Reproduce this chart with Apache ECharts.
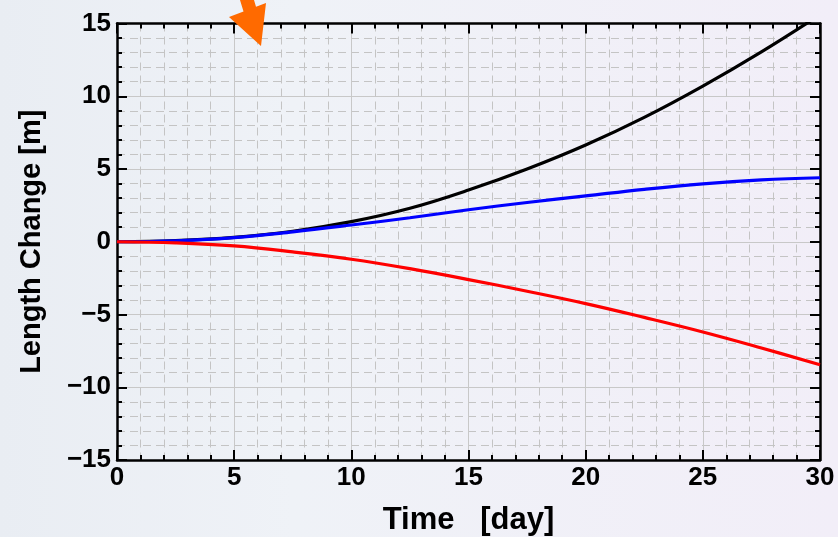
<!DOCTYPE html>
<html>
<head>
<meta charset="utf-8">
<script src="https://cdn.jsdelivr.net/npm/echarts@6/dist/echarts.min.js"></script>
<style>
  html, body { margin: 0; padding: 0; }
  #chart { width: 838px; height: 537px; }
</style>
</head>
<body>
<div id="chart"></div>
<script>
// data (day, metres)
const days = [0, 2.5, 5, 7.5, 10, 12.5, 15, 17.5, 20, 22.5, 25, 27.5, 30];
const blackVals = [0, 0.08, 0.3, 0.72, 1.38, 2.3, 3.55, 5.0, 6.65, 8.55, 10.7, 13.05, 15.6];
const blueVals = [0, 0.07, 0.28, 0.68, 1.15, 1.65, 2.2, 2.7, 3.15, 3.6, 3.98, 4.25, 4.4];
const redVals = [0, -0.08, -0.29, -0.7, -1.2, -1.85, -2.6, -3.4, -4.25, -5.2, -6.2, -7.3, -8.45];
const xTicks = [0, 5, 10, 15, 20, 25, 30];
const yTicks = [-15, -10, -5, 0, 5, 10, 15];

const pairs = vals => days.map((d, i) => [d, vals[i]]);
const font = 'Liberation Sans, Arial, sans-serif';

window.onload = () => {
    let chart = echarts.init(document.getElementById('chart'));

    const tickStyle = { show: true, inside: true, length: 10, lineStyle: { color: '#000', width: 2 } };
    const minorTick = { show: true, splitNumber: 5, length: 5, lineStyle: { color: '#000', width: 2 } };
    const lineStyle = { show: true, onZero: false, lineStyle: { color: '#000', width: 2.5 } };
    const majorGrid = { show: true, lineStyle: { color: '#c8c8c8', width: 1 } };
    const minorGrid = { show: true, lineStyle: { color: '#c4c4c4', width: 1, type: [8, 5] } };

    let option = {
        backgroundColor: {
            type: 'linear', x: 0, y: 0, x2: 1, y2: 0,
            colorStops: [
                { offset: 0, color: '#e9edf3' },
                { offset: 0.35, color: '#eff2f7' },
                { offset: 1, color: '#f2eef8' }
            ]
        },
        animation: false,
        grid: { left: 117, right: 18, top: 23.5, bottom: 77, outerBoundsMode: 'none', containLabel: false },
        xAxis: [{
            type: 'value', min: xTicks[0], max: xTicks[xTicks.length - 1], interval: 5,
            name: 'Time   [day]', nameLocation: 'middle', nameGap: 45,
            nameTextStyle: { fontFamily: font, fontWeight: 'bold', fontSize: 31, color: '#000' },
            axisLine: lineStyle, axisTick: tickStyle, minorTick: minorTick,
            axisLabel: { fontFamily: font, fontWeight: 'bold', fontSize: 26, color: '#000', margin: 5 },
            splitLine: majorGrid, minorSplitLine: minorGrid
        }, {
            type: 'value', position: 'top', min: 0, max: 30, interval: 5,
            axisLine: lineStyle, axisTick: tickStyle, minorTick: minorTick,
            axisLabel: { show: false }, splitLine: { show: false }
        }],
        yAxis: [{
            type: 'value', min: yTicks[0], max: yTicks[yTicks.length - 1], interval: 5,
            name: 'Length Change [m]', nameLocation: 'middle', nameGap: 71,
            nameTextStyle: { fontFamily: font, fontWeight: 'bold', fontSize: 29, color: '#000' },
            axisLine: lineStyle, axisTick: tickStyle, minorTick: minorTick,
            axisLabel: {
                fontFamily: font, fontWeight: 'bold', fontSize: 26, color: '#000', margin: 6,
                formatter: v => String(v).replace('-', '\u2212')
            },
            splitLine: majorGrid, minorSplitLine: minorGrid
        }, {
            type: 'value', position: 'right', min: -15, max: 15, interval: 5,
            axisLine: lineStyle, axisTick: tickStyle, minorTick: minorTick,
            axisLabel: { show: false }, splitLine: { show: false }
        }],
        graphic: [{
            type: 'polygon',
            shape: { points: [[240, 0], [243.5, 11.5], [229, 17], [261, 46], [266, 3], [256, 6.8], [254, 0]] },
            style: { fill: '#ff6a00' },
            z: 10
        }],
        series: [
            { type: 'line', data: pairs(blackVals), smooth: 0.4, symbol: 'none', clip: true,
              lineStyle: { color: '#000000', width: 3.2 } },
            { type: 'line', data: pairs(blueVals), smooth: 0.4, symbol: 'none', clip: true,
              lineStyle: { color: '#0000ff', width: 3.2 } },
            { type: 'line', data: pairs(redVals), smooth: 0.4, symbol: 'none', clip: true,
              lineStyle: { color: '#ff0000', width: 3.2 } }
        ]
    };
    chart.setOption(option);
};
</script>
</body>
</html>
